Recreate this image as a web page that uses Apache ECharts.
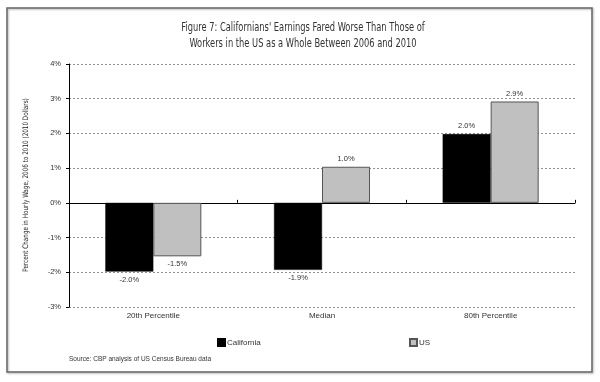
<!DOCTYPE html>
<html>
<head>
<meta charset="utf-8">
<script src="https://cdn.jsdelivr.net/npm/echarts@6/dist/echarts.min.js"></script>
<style>html,body{margin:0;padding:0;background:#fff;}#c{width:600px;height:382px;}</style>
</head>
<body>
<div id="c"></div>
<script>
var categories = ['20th Percentile', 'Median', '80th Percentile'];
var california = [-1.98, -1.93, 1.98];
var us = [-1.54, 1.04, 2.92];
var yTicks = [-3, -2, -1, 0, 1, 2, 3, 4];
var titleLines = ["Figure 7: Californians' Earnings Fared Worse Than Those of", "Workers in the US as a Whole Between 2006 and 2010"];
var yAxisTitle = 'Percent Change in Hourly Wage, 2006 to 2010 (2010 Dollars)';
var sourceText = 'Source: CBP analysis of US Census Bureau data';

var NARROW = '"DejaVu Sans Condensed", "Liberation Sans Narrow", sans-serif';
var SANS = '"Liberation Sans", Arial, sans-serif';

function withLabels(arr) {
  return arr.map(function (v) {
    return { value: v, label: { position: v < 0 ? 'bottom' : 'top' } };
  });
}
var labelStyle = {
  show: true, fontSize: 7.5, fontFamily: SANS, color: '#333', distance: 4,
  formatter: function (p) { return p.value.toFixed(1) + '%'; }
};

var chart = echarts.init(document.getElementById('c'), null, { renderer: 'canvas' });
chart.setOption({
  animation: false,
  backgroundColor: '#fff',
  graphic: [
    { type: 'rect', shape: { x: 7, y: 8, width: 585, height: 364 },
      style: { fill: 'none', stroke: '#666', lineWidth: 1.5, shadowBlur: 2, shadowColor: 'rgba(0,0,0,0.3)', shadowOffsetX: 1, shadowOffsetY: 1 }, z: -1, silent: true },
    { type: 'text', x: 303, y: 28, scaleX: 0.71,
      style: { text: titleLines[0], fontFamily: NARROW, fontSize: 13, fill: '#333', textAlign: 'center', textVerticalAlign: 'middle' } },
    { type: 'text', x: 303, y: 44, scaleX: 0.71,
      style: { text: titleLines[1], fontFamily: NARROW, fontSize: 13, fill: '#333', textAlign: 'center', textVerticalAlign: 'middle' } },
    { type: 'text', x: 26, y: 185, rotation: Math.PI / 2, scaleX: 0.84,
      style: { text: yAxisTitle, fontFamily: NARROW, fontSize: 7.5, fill: '#222', textAlign: 'center', textVerticalAlign: 'middle' } },
    { type: 'text', left: 69, top: 356,
      style: { text: sourceText, fontFamily: SANS, fontSize: 6.5, fill: '#333' } }
  ],
  legend: [
    { data: ['California'], left: 212, top: 333, itemWidth: 7, itemHeight: 7, itemGap: 2, icon: 'rect',
      textStyle: { fontFamily: SANS, fontSize: 8, color: '#333', padding: [0, 0, 0, -3] } },
    { data: ['US'], left: 404, top: 333, itemWidth: 7, itemHeight: 7, itemGap: 2, icon: 'rect',
      textStyle: { fontFamily: SANS, fontSize: 8, color: '#333', padding: [0, 0, 0, -3] } }
  ],
  grid: { left: 69, right: 25, top: 64, bottom: 75 },
  xAxis: [
    { type: 'category', data: categories, position: 'bottom',
      axisLine: { show: false, onZero: false }, axisTick: { show: false },
      axisLabel: { fontFamily: SANS, fontSize: 8, color: '#333', margin: 5 } },
    { type: 'category', data: categories, position: 'bottom',
      axisLine: { show: true, onZero: true, lineStyle: { color: '#000', width: 1 } },
      axisTick: { show: true, inside: true, length: 3, lineStyle: { color: '#000' } },
      axisLabel: { show: false } }
  ],
  yAxis: {
    type: 'value', min: -3, max: 4, interval: 1,
    axisLine: { show: true, lineStyle: { color: '#000', width: 1 } },
    axisTick: { show: true, length: 3, lineStyle: { color: '#000' } },
    axisLabel: { fontFamily: SANS, fontSize: 7.5, color: '#333', margin: 8,
      formatter: function (v) { return yTicks.indexOf(v) >= 0 ? v + '%' : ''; } },
    splitLine: { show: true, lineStyle: { color: '#777', type: [2, 2], width: 0.8 } }
  },
  series: [
    { name: 'California', type: 'bar', data: withLabels(california), barWidth: 48, barGap: '0%',
      itemStyle: { color: '#000', borderColor: '#000', borderWidth: 0.5 }, label: labelStyle },
    { name: 'US', type: 'bar', data: withLabels(us), barWidth: 48, barGap: '0%',
      itemStyle: { color: '#c0c0c0', borderColor: '#555', borderWidth: 1 }, label: labelStyle }
  ]
});
</script>
</body>
</html>
